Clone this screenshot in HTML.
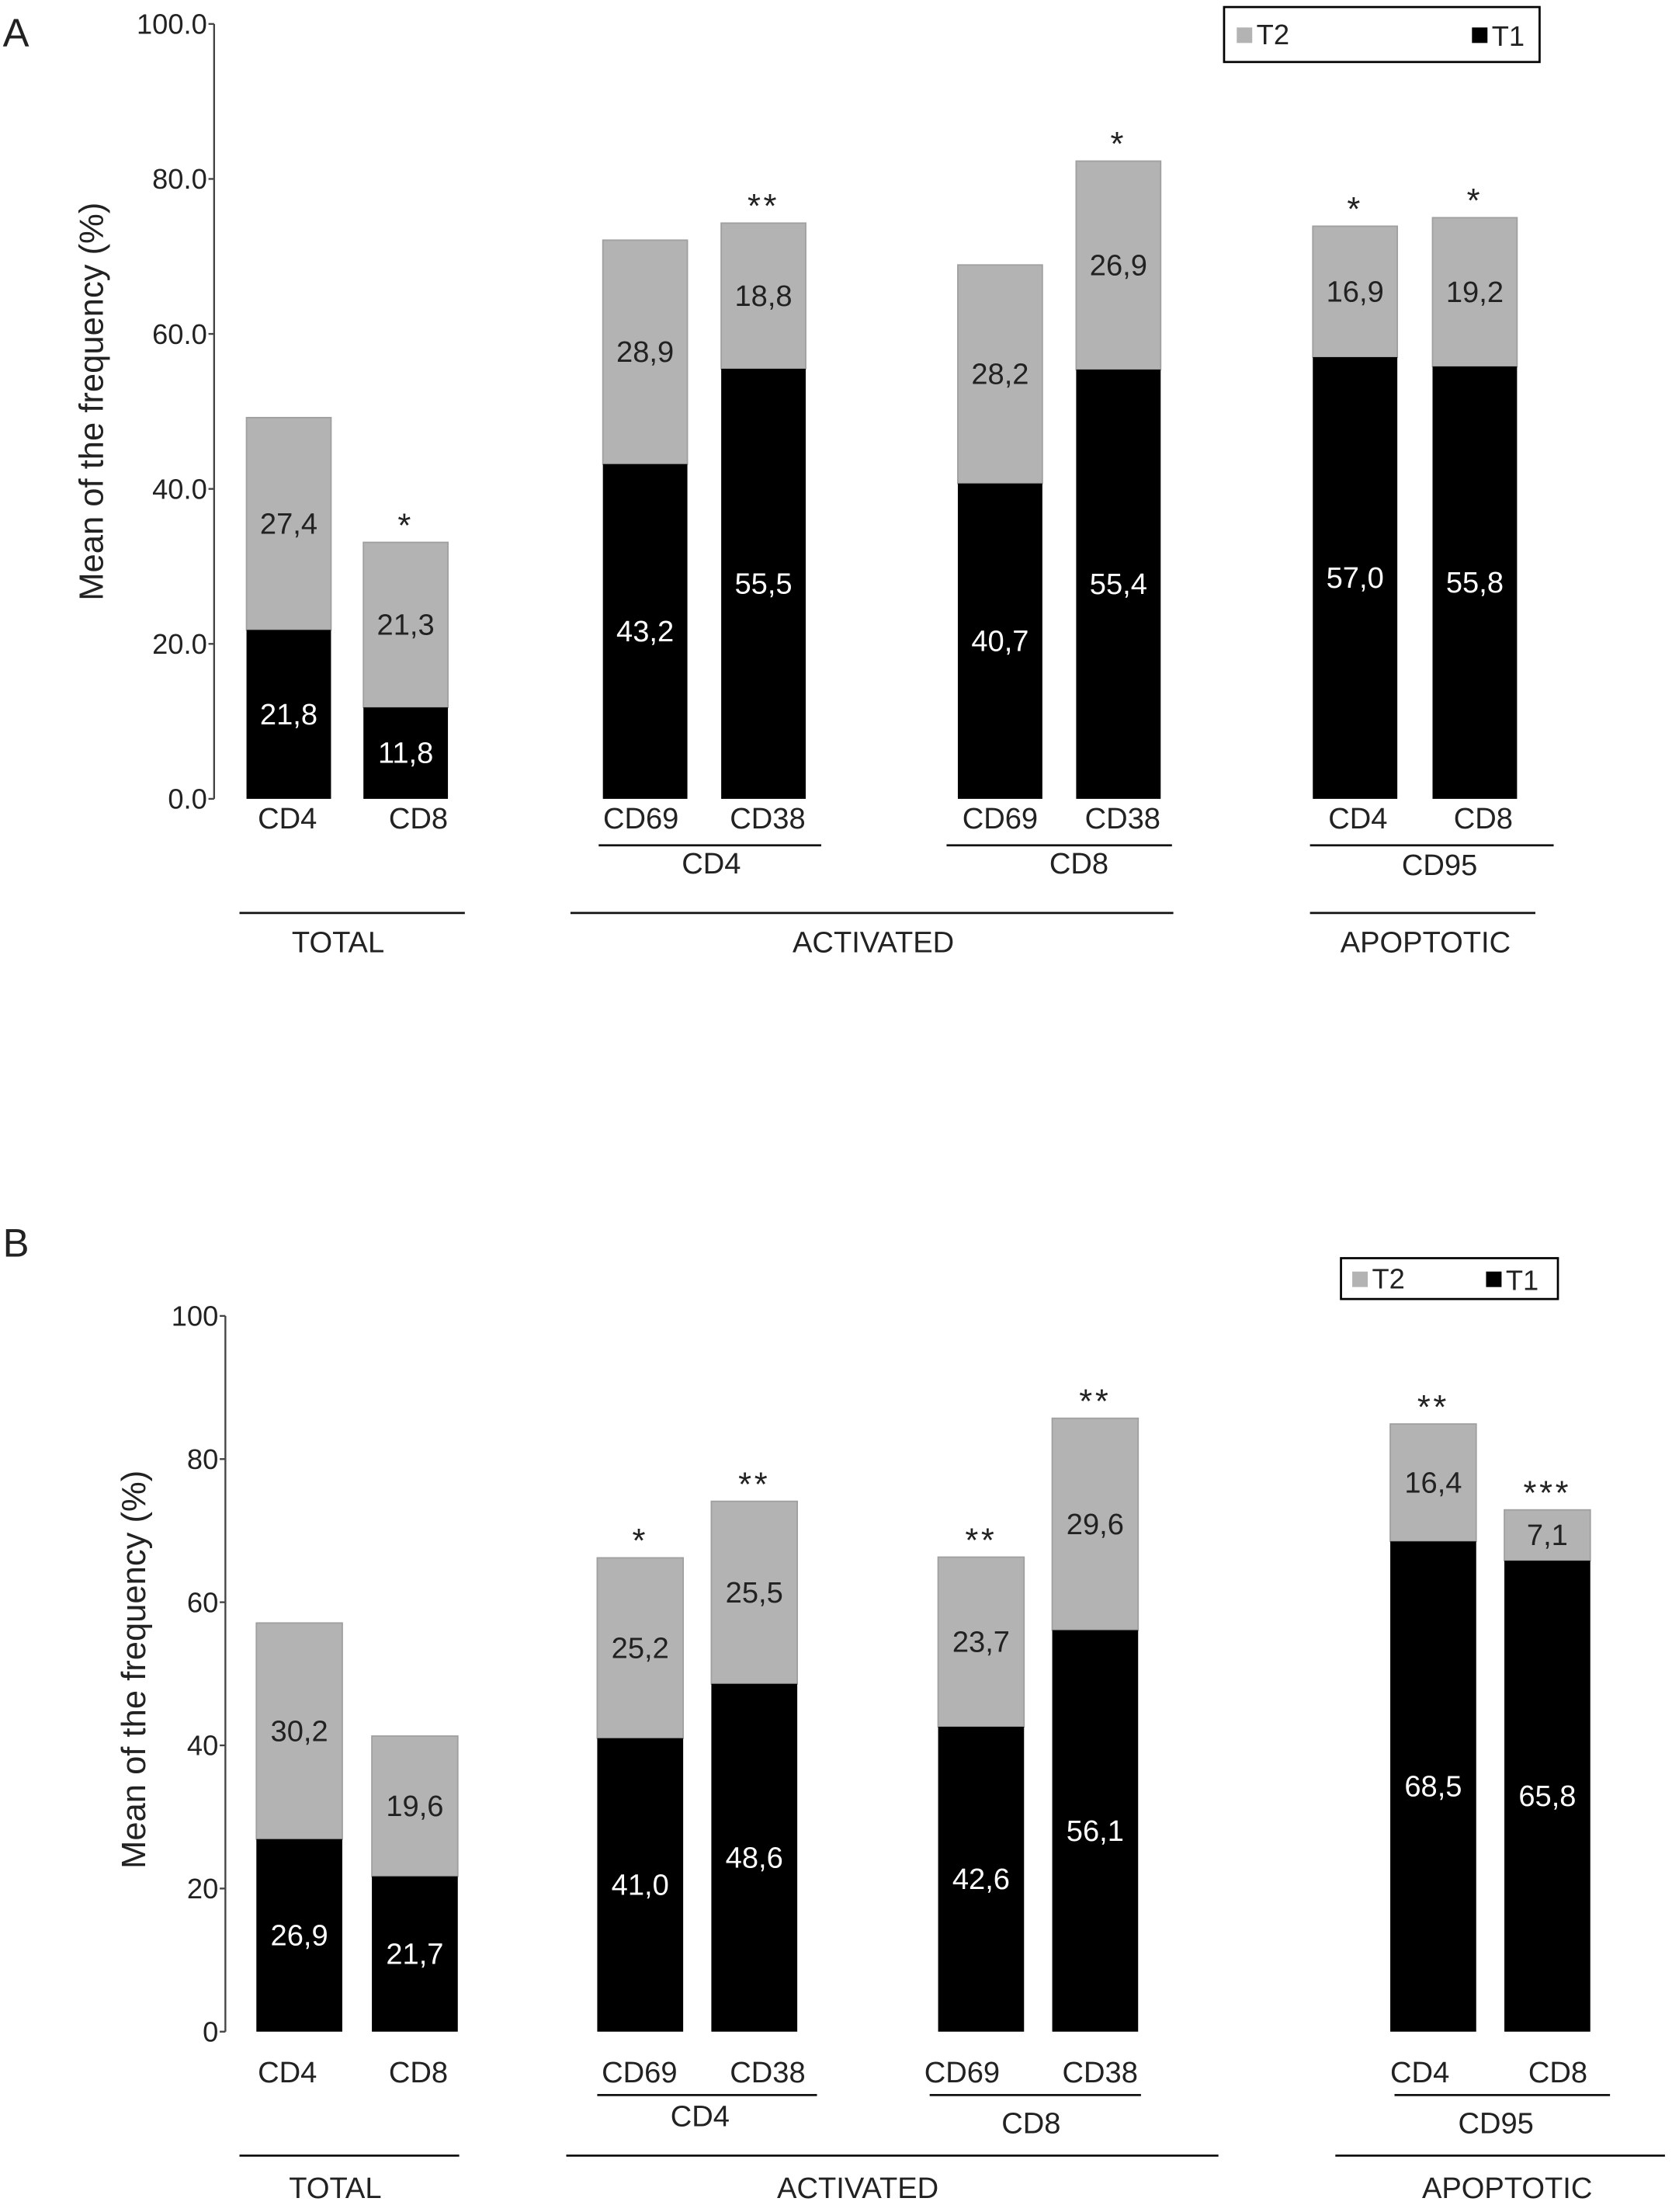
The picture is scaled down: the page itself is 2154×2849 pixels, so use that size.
<!DOCTYPE html>
<html><head><meta charset="utf-8"><style>
html,body{margin:0;padding:0;background:#fff}
svg{display:block}
text{font-family:"Liberation Sans",Arial,sans-serif;fill:#222}
</style></head><body>
<svg id="fig" xmlns="http://www.w3.org/2000/svg" width="2154" height="2849" viewBox="0 0 1187 1570"></svg>
<script>
// Panel A data
const catsA = ["CD4","CD8","CD69","CD38","CD69","CD38","CD4","CD8"];
const t1A = [21.8,11.8,43.2,55.5,40.7,55.4,57.0,55.8];
const t2A = [27.4,21.3,28.9,18.8,28.2,26.9,16.9,19.2];
const starsA = ["","*","","**","","*","*","*"];
const ticksA = ["0.0","20.0","40.0","60.0","80.0","100.0"];
// Panel B data
const catsB = ["CD4","CD8","CD69","CD38","CD69","CD38","CD4","CD8"];
const t1B = [26.9,21.7,41.0,48.6,42.6,56.1,68.5,65.8];
const t2B = [30.2,19.6,25.2,25.5,23.7,29.6,16.4,7.1];
const starsB = ["","","*","**","**","**","**","***"];
const ticksB = ["0","20","40","60","80","100"];

const NS="http://www.w3.org/2000/svg";
const svg=document.getElementById('fig');
function mk(tag,attrs,txt){const e=document.createElementNS(NS,tag);for(const k in attrs)e.setAttribute(k,attrs[k]);if(txt!==undefined)e.textContent=txt;svg.appendChild(e);return e;}

function panel(cfg){
  const y=v=>cfg.y0-(v/100)*(cfg.y0-cfg.y100);
  let el;
  el=mk('text',{x:2,y:cfg.letterY,'font-size':28},cfg.letter);
  
  
  el=mk('line',{x1:cfg.ax,y1:cfg.y100,x2:cfg.ax,y2:cfg.y0,stroke:'#444','stroke-width':1.3});
  
  
  cfg.ticks.forEach((t,i)=>{
    const v=i*20;
    el=mk('line',{x1:cfg.ax-4,y1:y(v),x2:cfg.ax,y2:y(v),stroke:'#444','stroke-width':1.3});
    
    
    el=mk('text',{x:cfg.ax-5,y:y(v)+7,'font-size':20,'text-anchor':'end'},t);
    
    
  });
  el=mk('text',{x:0,y:0,'font-size':24,'text-anchor':'middle',transform:`translate(${cfg.ylx},${cfg.yly}) rotate(-90)`},'Mean of the frequency (%)');
  
  
  cfg.cats.forEach((c,i)=>{
    const x=cfg.barX[i], w=cfg.bw, a=cfg.t1[i], b=cfg.t2[i];
    el=mk('rect',{x:x,y:y(a+b),width:w,height:y(a)-y(a+b),fill:'#b3b3b3',stroke:'#a0a0a0','stroke-width':1});
    
    
    el=mk('rect',{x:x,y:y(a),width:w,height:y(0)-y(a),fill:'#000'});
    
    
    el=mk('text',{x:x+w/2,y:(y(a)+y(a+b))/2+7,'font-size':21,'text-anchor':'middle'},b.toFixed(1).replace('.',','));
    
    
    el=mk('text',{x:x+w/2,y:(y(0)+y(a))/2+7,'font-size':21,'text-anchor':'middle',style:'fill:#fff'},a.toFixed(1).replace('.',','));
    
    
    if(cfg.stars[i]){
      el=mk('text',{x:x+w/2,y:y(a+b)-4,'font-size':24,'text-anchor':'middle','letter-spacing':2},cfg.stars[i]);
      
      
    }
    el=mk('text',{x:cfg.catX[i],y:cfg.catY,'font-size':21,'text-anchor':'middle'},c);
    
    
  });
  cfg.lines.forEach(l=>{
    el=mk('line',{x1:l[0],x2:l[1],y1:l[2],y2:l[2],stroke:'#111','stroke-width':1.5});
    
    
    el=mk('text',{x:l[5],y:l[4],'font-size':21,'text-anchor':'middle'},l[3]);
    
    
  });
  const L=cfg.legend;
  el=mk('rect',{x:L[0],y:L[1],width:L[2],height:L[3],fill:'#fff',stroke:'#000','stroke-width':1.5});
  
  
  const cy=L[1]+L[3]/2;
  el=mk('rect',{x:L[4],y:cy-5,width:11,height:11,fill:'#b3b3b3'});
  
  
  el=mk('text',{x:L[4]+14,y:cy+7,'font-size':20},'T2');
  
  
  el=mk('rect',{x:L[5],y:cy-5,width:11,height:11,fill:'#000'});
  
  
  el=mk('text',{x:L[5]+14,y:cy+8,'font-size':20},'T1');
  
  
}

panel({id:'a',letter:'A',letterY:33,ax:152,y0:567,y100:17,ticks:ticksA,ylx:73,yly:285,
  cats:catsA,t1:t1A,t2:t2A,stars:starsA,bw:60,
  barX:[175,258,428,512,680,764,932,1017],
  catX:[204,297,455,545,710,797,964,1053],catY:588,
  lines:[[425,583,600,'CD4',620,505],[672,832,600,'CD8',620,766],[930,1103,600,'CD95',621,1022],
         [170,330,648,'TOTAL',676,240],[405,833,648,'ACTIVATED',676,620],[930,1090,648,'APOPTOTIC',676,1012]],
  legend:[869,5,224,39,878,1045]});
panel({id:'b',letter:'B',letterY:892,ax:160,y0:1442,y100:934,ticks:ticksB,ylx:103,yly:1185,
  cats:catsB,t1:t1B,t2:t2B,stars:starsB,bw:61,
  barX:[182,264,424,505,666,747,987,1068],
  catX:[204,297,454,545,683,781,1008,1106],catY:1478,
  lines:[[424,580,1487,'CD4',1509,497],[660,810,1487,'CD8',1514,732],[990,1143,1487,'CD95',1514,1062],
         [170,326,1530,'TOTAL',1560,238],[402,865,1530,'ACTIVATED',1560,609],[948,1182,1530,'APOPTOTIC',1560,1070]],
  legend:[952,893,154,29,960,1055]});
</script>
</body></html>
